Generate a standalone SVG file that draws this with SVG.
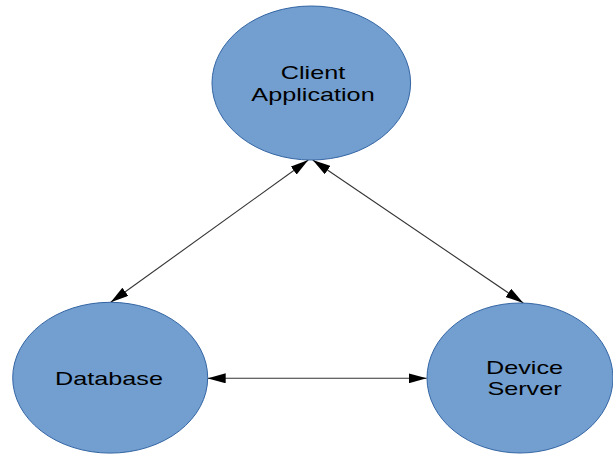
<svg xmlns="http://www.w3.org/2000/svg" width="613" height="454" viewBox="0 0 613 454">
  <style>
    .node ellipse { fill: #729fcf; stroke: #3465a4; stroke-width: 1; }
    .node text { font-family: "Liberation Sans", Arial, sans-serif; font-size: 19px; fill: #000; text-anchor: middle; }
    .edge { stroke: #333; stroke-width: 1.1; fill: none; marker-start: url(#arrow); marker-end: url(#arrow); }
  </style>
  <defs>
    <marker id="arrow" markerUnits="userSpaceOnUse" markerWidth="18" markerHeight="10" refX="18" refY="5" orient="auto-start-reverse" viewBox="0 0 18 10">
      <path d="M0,0 L18,5 L0,10 Z" fill="#000"/>
    </marker>
  </defs>
  <rect width="613" height="454" fill="#fff"/>
  <g id="connectors">
    <line class="edge" x1="308.3" y1="160" x2="110.7" y2="302.3"/>
    <line class="edge" x1="312.7" y1="160" x2="523.3" y2="303"/>
    <line class="edge" x1="207.7" y1="378.3" x2="426.7" y2="378.3"/>
  </g>
  <g id="client" class="node">
    <ellipse cx="311.3" cy="83" rx="99.3" ry="77"/>
    <text transform="translate(313 79) scale(1.327 1)"><tspan x="0" y="0">Client</tspan><tspan x="0" y="22">Application</tspan></text>
  </g>
  <g id="database" class="node">
    <ellipse cx="110.2" cy="377.7" rx="97.5" ry="75.4"/>
    <text transform="translate(109 385) scale(1.327 1)">Database</text>
  </g>
  <g id="device-server" class="node">
    <ellipse cx="520" cy="378" rx="93" ry="75"/>
    <text transform="translate(524.5 373.5) scale(1.327 1)"><tspan x="0" y="0">Device</tspan><tspan x="0" y="22">Server</tspan></text>
  </g>
</svg>
